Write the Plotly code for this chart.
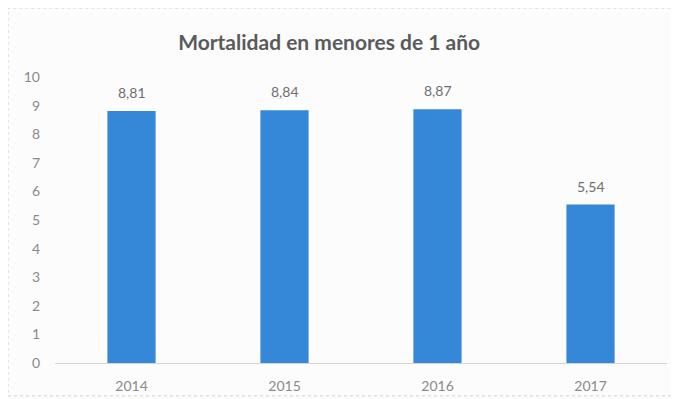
import plotly.graph_objects as go

years = ["2014", "2015", "2016", "2017"]
values = [8.81, 8.84, 8.87, 5.54]
labels = ["8,81", "8,84", "8,87", "5,54"]
y_ticks = list(range(0, 11))

FONT = "Lato, Open Sans, sans-serif"

fig = go.Figure(go.Bar(
    x=years, y=values,
    marker=dict(color="#3587D8", line=dict(width=0)),
    hoverinfo="skip",
))

for i, (v, lb) in enumerate(zip(values, labels)):
    fig.add_annotation(x=i, y=v, text=lb, showarrow=False, xref="x", yref="y",
                       yanchor="bottom", yshift=8,
                       font=dict(size=14, color="#6e6e6e", family=FONT))

fig.update_layout(
    width=679, height=399,
    paper_bgcolor="#FCFCFC", plot_bgcolor="#FCFCFC",
    margin=dict(l=47, r=20, t=69, b=44),
    bargap=0.685,
    showlegend=False,
    title=dict(text="Mortalidad en menores de 1 año", x=0.473, xanchor="center",
               y=0.912, yanchor="middle",
               font=dict(size=21, color="#5a5a5a", family=FONT, weight="bold")),
    font=dict(family=FONT, color="#8a8a8a", size=14),
)
fig.add_shape(type="rect", xref="paper", yref="paper", x0=-0.0767, x1=1.02,
              y0=-0.115, y1=1.241, line=dict(color="#d0d0d0", width=1, dash="dot"))
fig.update_yaxes(range=[0, 10], tickvals=y_ticks, showgrid=False, zeroline=False,
                 showline=False, ticks="", ticklabelstandoff=14,
                 tickfont=dict(size=14, color="#8a8a8a", family=FONT))
fig.update_xaxes(type="category", showgrid=False, showline=True, linecolor="#d4d4d4",
                 linewidth=1, ticks="", ticklabelstandoff=10,
                 tickfont=dict(size=14, color="#8a8a8a", family=FONT))

fig.write_html("out.html")
